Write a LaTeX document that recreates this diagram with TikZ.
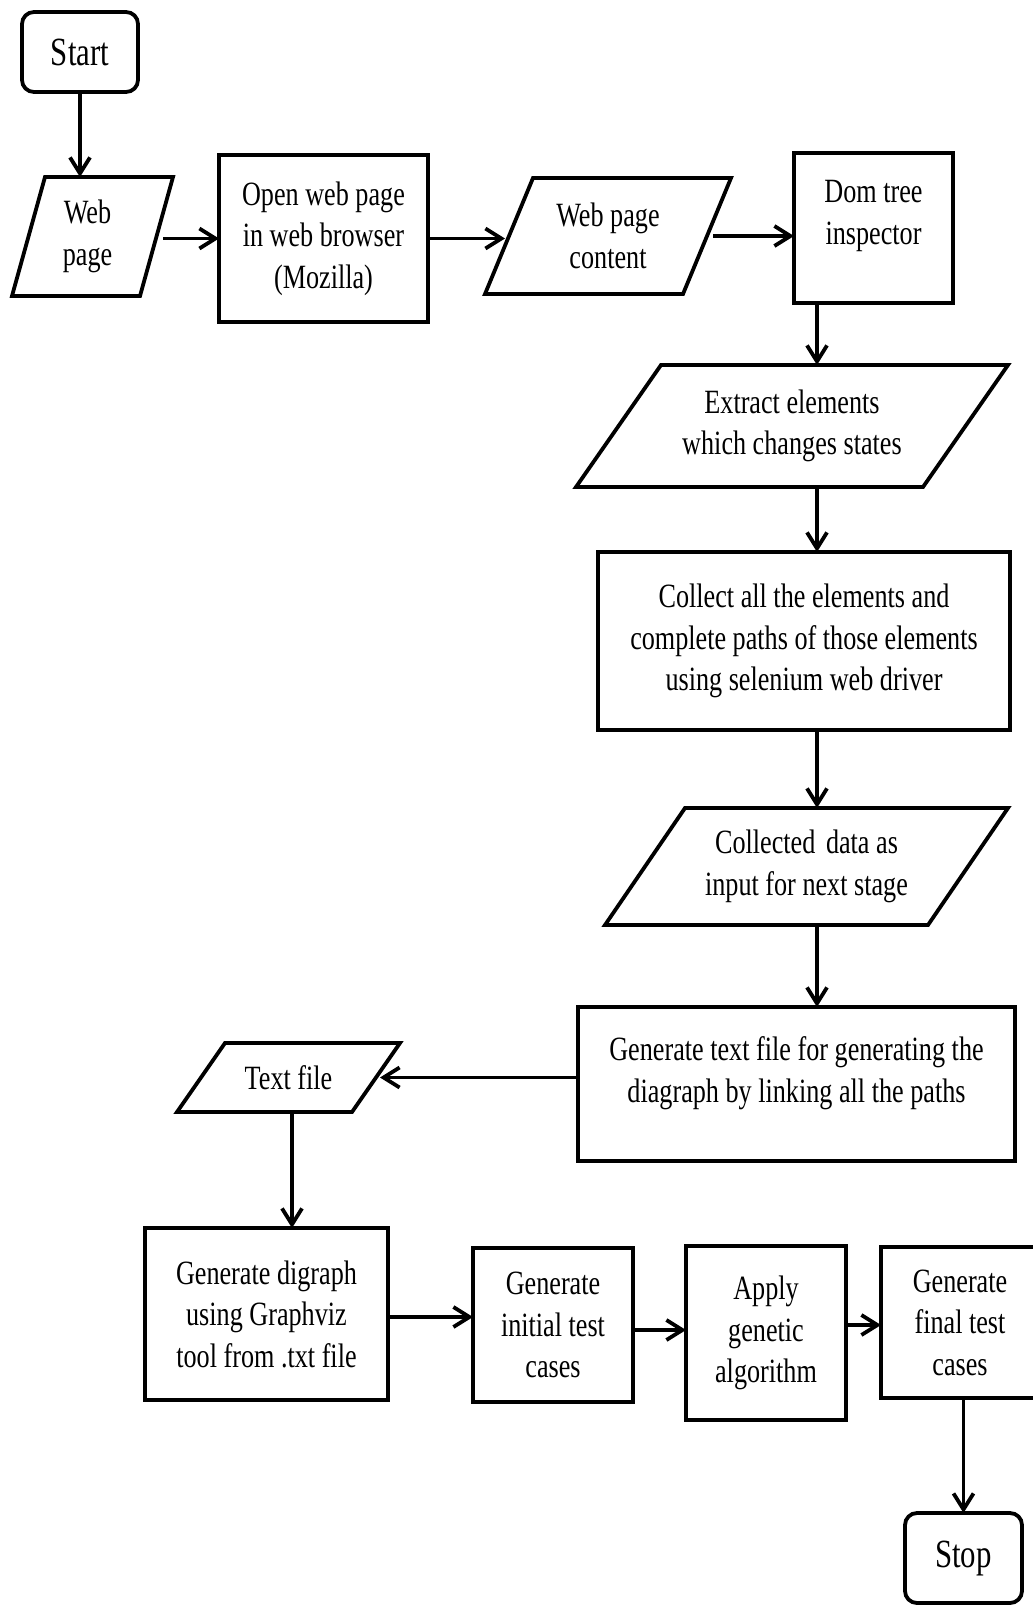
\documentclass[tikz,border=0pt]{standalone}
\usepackage{fontspec}
\setmainfont{Liberation Serif}
\newfontfamily\bfont{Liberation Serif}[FakeStretch=0.77]
\usetikzlibrary{arrows.meta,calc}
\newcommand\drawpara[2]{%
  \draw[lw] (#1.south west) -- ($(#1.north west)+(#2,0)$) -- (#1.north east) -- ($(#1.south east)+(-#2,0)$) -- cycle;}
\begin{document}
\begin{tikzpicture}[x=1pt,y=-1pt,
  every node/.style={inner sep=0pt, outer sep=0pt},
  lw/.style={line width=3.8pt},
  txt/.style={align=center, font=\bfont\fontsize{34}{41.5}\selectfont},
  box/.style={txt, draw, lw, rectangle},
  term/.style={box, rounded corners=12pt, font=\bfont\fontsize{40}{44}\selectfont},
  para/.style={txt, rectangle},
  arr/.style={lw, -{Straight Barb[length=16pt,width=20pt]}},
]
\useasboundingbox (0,0) rectangle (1033,1607);
\clip (0,0) rectangle (1033,1607);
\fill[white] (0,0) rectangle (1033,1607);

% nodes
\node[term, minimum width=116, minimum height=80] (start) at (80,52) {Start};
\node[para, minimum width=161, minimum height=119] (web) at (92.5,236.5) {\hspace*{-10pt}Web\\\hspace*{-10pt}page};
\node[box, minimum width=209, minimum height=167] (open) at (323.5,238.5) {Open web page\\in web browser\\(Mozilla)};
\node[para, minimum width=246, minimum height=116] (content) at (608,236) {Web page\\content};
\node[box, minimum width=159, minimum height=150] (dom) at (873.5,228) {};
\node[txt] (domtext) at (873.5,216) {Dom tree\\inspector};
\node[para, minimum width=432, minimum height=122] (extract) at (792,426) {Extract elements\\which changes states};
\node[box, minimum width=412, minimum height=178] (collect) at (804,641) {Collect all the elements and\\complete paths of those elements\\using selenium web driver};
\node[para, minimum width=403, minimum height=117] (collected) at (806.5,866.5) {Collected\hspace{0.12em} data as\\input for next stage};
\node[box, minimum width=437, minimum height=154] (gentext) at (796.5,1084) {};
\node[txt] (gentexttext) at (796.5,1073) {Generate text file for generating the\\diagraph by linking all the paths};
\node[para, minimum width=223, minimum height=69] (textfile) at (288.5,1077.5) {Text file};
\node[box, minimum width=243, minimum height=172] (digraph) at (266.5,1314) {Generate digraph\\using Graphviz\\tool from .txt file};
\node[box, minimum width=160, minimum height=154] (initial) at (553,1325) {Generate\\initial test\\cases};
\node[box, minimum width=160, minimum height=174] (apply) at (766,1333) {Apply\\genetic\\algorithm};
\node[box, minimum width=158, minimum height=151] (final) at (960,1322.5) {Generate\\final test\\cases};
\node[term, minimum width=117, minimum height=90] (stop) at (963.5,1558) {Stop};

% parallelogram outlines
\drawpara{web}{33}
\drawpara{content}{48}
\drawpara{extract}{85}
\drawpara{collected}{80}
\drawpara{textfile}{48}

% connectors
\coordinate (spine) at (817,0);
\coordinate (tfx) at (292,0);
\draw[arr] (start.south) -- (start.south |- web.north);
\draw[arr] ($(web.east |- open.west)+(-10,0)$) -- (open.west);
\draw[arr] (open.east) -- ($(content.west |- open.east)+(20,0)$);
\draw[arr] ($(content.east)+(-18,0)$) -- (content.east -| dom.west);
\draw[arr] (spine |- dom.south) -- (spine |- extract.north);
\draw[arr] (spine |- extract.south) -- (spine |- collect.north);
\draw[arr] (spine |- collect.south) -- (spine |- collected.north);
\draw[arr] (spine |- collected.south) -- (spine |- gentext.north);
\draw[arr] (gentext.west |- textfile.east) -- ($(textfile.east)+(-20,0)$);
\draw[arr] (tfx |- textfile.south) -- (tfx |- digraph.north);
\draw[arr] ($(digraph.east)+(0,3)$) -- ($(initial.west |- digraph.east)+(0,3)$);
\draw[arr] ($(initial.east)+(0,5)$) -- ($(apply.west |- initial.east)+(0,5)$);
\draw[arr] ($(apply.east)+(0,-8)$) -- ($(final.west |- apply.east)+(0,-8)$);
\draw[arr] (stop.north |- final.south) -- (stop.north);
\end{tikzpicture}
\end{document}
